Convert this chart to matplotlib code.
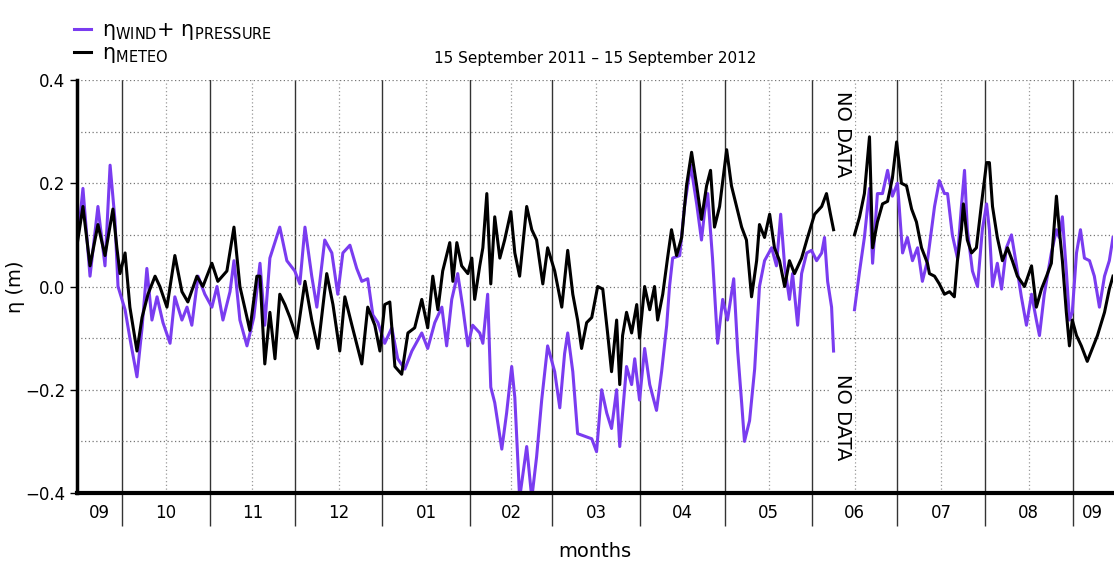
import matplotlib
matplotlib.use("Agg")
import matplotlib.pyplot as plt
import numpy as np
import pandas as pd

START = pd.Timestamp("2011-09-15")
END_DAY = 366.3

# eta_wind + eta_pressure  (days since 15 Sep 2011, metres)
wp_day = [0, 1.0, 2.1, 4.6, 7.4, 9.9, 11.7, 13.4, 14.5, 17.0, 18.7, 21.2, 23.0, 24.7, 26.5, 28.3,
          30.4, 32.9, 34.6, 37.1, 38.9, 40.6, 42.8, 45.2, 47.7, 49.5, 51.6, 54.1, 55.5, 57.6, 60.1,
          62.5, 64.7, 66.4, 68.2, 71.7, 74.2, 77.0, 78.8, 80.6, 83.0, 84.8, 87.6, 90.1, 92.2, 94.0,
          96.5, 98.9, 100.7, 102.8, 104.6, 106.4, 108.8, 111.3, 113.4, 115.9, 118.4, 119.4, 121.9,
          124.0, 126.5, 129.0, 130.7, 132.5, 134.6, 136.4, 138.2, 139.9, 142.4, 143.5, 145.2, 146.3,
          147.7, 150.2, 151.9, 153.7, 154.8, 156.5, 159.0, 160.8, 162.5, 164.3, 166.4, 168.9, 170.7,
          172.4, 173.5, 175.3, 177.0, 179.5, 182.0, 183.7, 185.5, 187.3, 189.0, 190.8, 191.9, 194.3,
          196.1, 197.2, 198.9, 200.7, 202.5, 204.9, 206.7, 208.5, 209.5, 210.6, 213.1, 214.8, 217.0,
          219.1, 220.8, 221.9, 223.0, 224.7, 226.5, 228.3, 230.0, 232.2, 233.6, 235.0, 236.0, 237.8,
          239.6, 241.3, 243.1, 245.6, 247.3, 248.8, 250.2, 251.9, 253.0, 254.8, 256.2, 258.0, 259.7,
          261.5, 263.3, 264.3, 265.4, 266.8, 267.5, 268.0, 268.5, 273.5, 274.0, 274.9, 276.7, 278.4,
          280.2, 281.3, 283.0, 284.8, 286.6, 288.3, 290.1, 291.9, 293.6, 295.4, 297.2, 298.9, 300.7,
          303.2, 304.9, 306.7, 307.8, 309.5, 311.3, 312.7, 313.8, 314.8, 316.6, 318.4, 320.1, 321.6,
          322.6, 323.7, 325.4, 326.9, 328.6, 330.4, 332.2, 333.9, 335.7, 337.5, 339.2, 340.3, 342.0,
          344.5, 346.3, 347.3, 348.4, 349.8, 350.9, 351.9, 353.4, 354.8, 356.2, 358.0, 359.7, 361.5,
          363.3, 365.0, 366.3]
wp_val = [0.10, 0.13, 0.19, 0.02, 0.155, 0.04, 0.235, 0.13, 0.0, -0.045, -0.10, -0.175, -0.08, 0.035,
          -0.065, -0.02, -0.07, -0.11, -0.02, -0.065, -0.04, -0.075, 0.02, -0.015, -0.04, 0.0, -0.065,
          -0.01, 0.05, -0.065, -0.115, -0.06, 0.045, -0.075, 0.055, 0.115, 0.05, 0.03, 0.005, 0.115,
          0.02, -0.04, 0.09, 0.065, -0.015, 0.065, 0.08, 0.035, 0.01, 0.015, -0.055, -0.07, -0.11,
          -0.08, -0.14, -0.16, -0.125, -0.115, -0.09, -0.12, -0.07, -0.04, -0.115, -0.025, 0.025,
          -0.04, -0.115, -0.075, -0.09, -0.11, -0.015, -0.195, -0.225, -0.315, -0.245, -0.155, -0.215,
          -0.41, -0.31, -0.41, -0.33, -0.22, -0.115, -0.165, -0.235, -0.13, -0.09, -0.165, -0.285,
          -0.29, -0.295, -0.32, -0.20, -0.245, -0.275, -0.20, -0.31, -0.155, -0.19, -0.14, -0.22,
          -0.12, -0.19, -0.24, -0.165, -0.075, 0.0, 0.055, 0.06, 0.155, 0.235, 0.16, 0.09, 0.145,
          0.18, 0.055, -0.11, -0.025, -0.065, 0.015, -0.125, -0.225, -0.30, -0.26, -0.16, 0.0, 0.05,
          0.075, 0.04, 0.14, 0.04, -0.025, 0.025, -0.075, 0.025, 0.065, 0.07, 0.05, 0.065, 0.095,
          0.01, -0.04, -0.125, np.nan, -0.40, -0.40, np.nan, -0.045, 0.03, 0.095, 0.19, 0.045, 0.18,
          0.18, 0.225, 0.175, 0.20, 0.065, 0.095, 0.05, 0.075, 0.01, 0.05, 0.155, 0.205, 0.18, 0.18,
          0.10, 0.055, 0.155, 0.225, 0.11, 0.03, 0.0, 0.11, 0.16, 0.11, 0.0, 0.045, -0.005, 0.075,
          0.10, 0.04, -0.02, -0.075, -0.015, -0.065, -0.095, -0.015, 0.065, 0.11, 0.095, 0.135, 0.03,
          -0.065, -0.05, 0.065, 0.11, 0.055, 0.05, 0.02, -0.04, 0.02, 0.05, 0.095]

# eta_meteo
met_day = [0, 2.1, 4.6, 7.4, 9.9, 12.7, 14.1, 15.2, 17.0, 18.7, 21.2, 23.0, 25.1, 27.6, 29.3, 31.8,
           34.6, 37.1, 39.2, 42.4, 44.5, 47.7, 49.8, 53.0, 55.5, 57.6, 60.1, 61.1, 63.6, 64.7, 66.4,
           68.2, 70.0, 71.7, 73.5, 75.3, 77.7, 80.6, 83.0, 85.2, 88.3, 90.5, 92.9, 94.7, 97.2, 100.7,
           102.8, 105.3, 107.1, 108.8, 110.6, 112.4, 114.8, 117.0, 119.4, 121.9, 124.0, 125.8, 127.6,
           129.3, 131.8, 132.9, 134.3, 136.0, 138.2, 139.6, 140.6, 142.4, 143.5, 144.9, 146.3, 147.7,
           149.5, 151.2, 153.4, 154.8, 156.5, 159.0, 160.8, 162.5, 164.7, 166.4, 168.9, 171.4, 173.5,
           175.3, 177.0, 178.4, 180.2, 182.0, 184.1, 185.9, 187.6, 189.0, 190.8, 191.9, 192.9, 194.3,
           196.1, 197.9, 198.9, 200.7, 202.5, 204.2, 205.3, 207.1, 208.8, 210.2, 212.0, 213.8, 215.5,
           217.3, 219.1, 220.8, 222.6, 224.0, 225.4, 227.2, 229.7, 231.4, 233.2, 235.0, 236.7, 238.5,
           240.3, 241.3, 243.1, 244.9, 246.6, 248.4, 250.2, 251.9, 253.7, 256.2, 258.3, 260.8, 263.3,
           265.0, 266.4, 267.5, 270.0, 274.9, 276.7, 278.4, 280.2, 281.3, 283.0, 284.8, 286.6, 288.3,
           289.8, 291.5, 293.3, 295.1, 296.8, 298.6, 300.7, 301.4, 303.2, 304.9, 306.7, 308.5, 310.2,
           311.3, 312.7, 313.4, 314.8, 316.3, 318.0, 319.8, 321.6, 322.6, 323.7, 325.4, 327.2, 329.0,
           330.7, 332.5, 335.0, 337.5, 339.2, 341.0, 342.8, 344.5, 346.3, 347.3, 348.4, 349.8, 350.9,
           351.9, 353.4, 355.1, 357.2, 359.0, 360.8, 363.3, 365.0, 366.3]
met_val = [0.08, 0.155, 0.04, 0.12, 0.06, 0.15, 0.075, 0.025, 0.065, -0.04, -0.125, -0.06, -0.015,
           0.02, 0.0, -0.04, 0.06, -0.01, -0.03, 0.02, 0.0, 0.045, 0.01, 0.03, 0.115, 0.0, -0.06,
           -0.085, 0.02, 0.02, -0.15, -0.05, -0.14, -0.015, -0.035, -0.06, -0.10, 0.01, -0.065, -0.12,
           0.025, -0.035, -0.125, -0.02, -0.075, -0.15, -0.04, -0.075, -0.125, -0.035, -0.03, -0.155,
           -0.17, -0.09, -0.08, -0.025, -0.08, 0.02, -0.045, 0.03, 0.085, 0.01, 0.085, 0.04, 0.025,
           0.055, -0.025, 0.04, 0.075, 0.18, 0.005, 0.135, 0.055, 0.09, 0.145, 0.065, 0.02, 0.155,
           0.11, 0.09, 0.005, 0.075, 0.03, -0.04, 0.07, -0.015, -0.065, -0.12, -0.07, -0.06, 0.0,
           -0.005, -0.09, -0.165, -0.065, -0.19, -0.095, -0.05, -0.09, -0.035, -0.10, 0.0, -0.045,
           0.0, -0.065, -0.015, 0.055, 0.11, 0.06, 0.095, 0.195, 0.26, 0.195, 0.13, 0.195, 0.225,
           0.115, 0.155, 0.265, 0.195, 0.155, 0.115, 0.09, -0.02, 0.05, 0.12, 0.095, 0.14, 0.075,
           0.05, 0.0, 0.05, 0.025, 0.055, 0.095, 0.14, 0.155, 0.18, 0.14, 0.11, np.nan, 0.10, 0.135,
           0.18, 0.29, 0.075, 0.125, 0.16, 0.165, 0.21, 0.28, 0.20, 0.195, 0.15, 0.125, 0.075, 0.045,
           0.025, 0.02, 0.005, -0.015, -0.01, -0.02, 0.05, 0.11, 0.16, 0.09, 0.065, 0.075, 0.16, 0.24,
           0.24, 0.155, 0.095, 0.05, 0.075, 0.05, 0.02, 0.0, 0.04, -0.04, -0.005, 0.02, 0.045, 0.175,
           0.11, 0.05, -0.05, -0.115, -0.065, -0.095, -0.115, -0.145, -0.12, -0.095, -0.05, -0.005,
           0.02]

month_labels = ["09", "10", "11", "12", "01", "02", "03", "04", "05", "06", "07", "08", "09"]

PURPLE = "#7a3cf0"

wp_t = START + pd.to_timedelta(wp_day, unit="D")
met_t = START + pd.to_timedelta(met_day, unit="D")
t_end = START + pd.to_timedelta(END_DAY, unit="D")

fig = plt.figure(figsize=(11.14, 5.63), dpi=100)
ax = fig.add_axes([77 / 1114, 70 / 563, 1036 / 1114, 413 / 563])

ax.plot(wp_t, wp_val, color=PURPLE, lw=2.2, label="\u03b7$_{\\rm WIND}$+ \u03b7$_{\\rm PRESSURE}$")
ax.plot(met_t, met_val, color="black", lw=2.2, label="\u03b7$_{\\rm METEO}$")

ax.set_xlim(START, t_end)
ax.set_ylim(-0.4, 0.4)

# month boundaries and mid-month grid
bounds = pd.date_range("2011-10-01", "2012-09-01", freq="MS")
edges = [START] + list(bounds) + [t_end]
centers = [edges[i] + (edges[i + 1] - edges[i]) / 2 for i in range(len(edges) - 1)]
for b in bounds:
    ax.axvline(b, color="#333333", lw=1.0, zorder=1)
for c in centers[1:-1]:
    ax.axvline(c, color="#999999", lw=0.9, ls=(0, (1, 2)), zorder=0)

ax.set_xticks(bounds)
ax.set_xticklabels([])
ax.set_xticks(centers, minor=True)
ax.set_xticklabels(month_labels, minor=True, fontsize=12)
ax.tick_params(axis="x", which="major", length=24, width=1, color="#333333", direction="out")
ax.tick_params(axis="x", which="minor", length=0, pad=8)

ax.set_yticks([-0.4, -0.2, 0.0, 0.2, 0.4])
ax.set_yticks(np.arange(-0.4, 0.41, 0.1), minor=True)
ax.tick_params(axis="y", which="major", labelsize=12, length=5, width=1)
ax.tick_params(axis="y", which="minor", length=0)
ax.grid(axis="y", which="both", color="#777777", lw=0.9, ls=(0, (1, 2)))

for s in ["top", "right"]:
    ax.spines[s].set_visible(False)
ax.spines["left"].set_linewidth(2.5)
ax.spines["bottom"].set_linewidth(3)

no_data_day = START + pd.to_timedelta(270.7, unit="D")
for yv in [0.295, -0.253]:
    ax.text(no_data_day, yv, "NO DATA", rotation=-90, ha="center", va="center", fontsize=14,
            bbox=dict(facecolor="white", edgecolor="none", pad=2), zorder=5)

ax.set_title("15 September 2011 \u2013 15 September 2012", fontsize=11, pad=12)
ax.set_ylabel("\u03b7 (m)", fontsize=14)
ax.yaxis.set_label_coords(-0.05, 0.5)
ax.set_xlabel("months", fontsize=14)
ax.xaxis.set_label_coords(0.5, -0.118)

fig.legend(loc="upper left", bbox_to_anchor=(0.05, 0.998), frameon=False, fontsize=15,
           handlelength=0.8, handletextpad=0.5, labelspacing=0.05)

fig.savefig("out.png", dpi=100)
